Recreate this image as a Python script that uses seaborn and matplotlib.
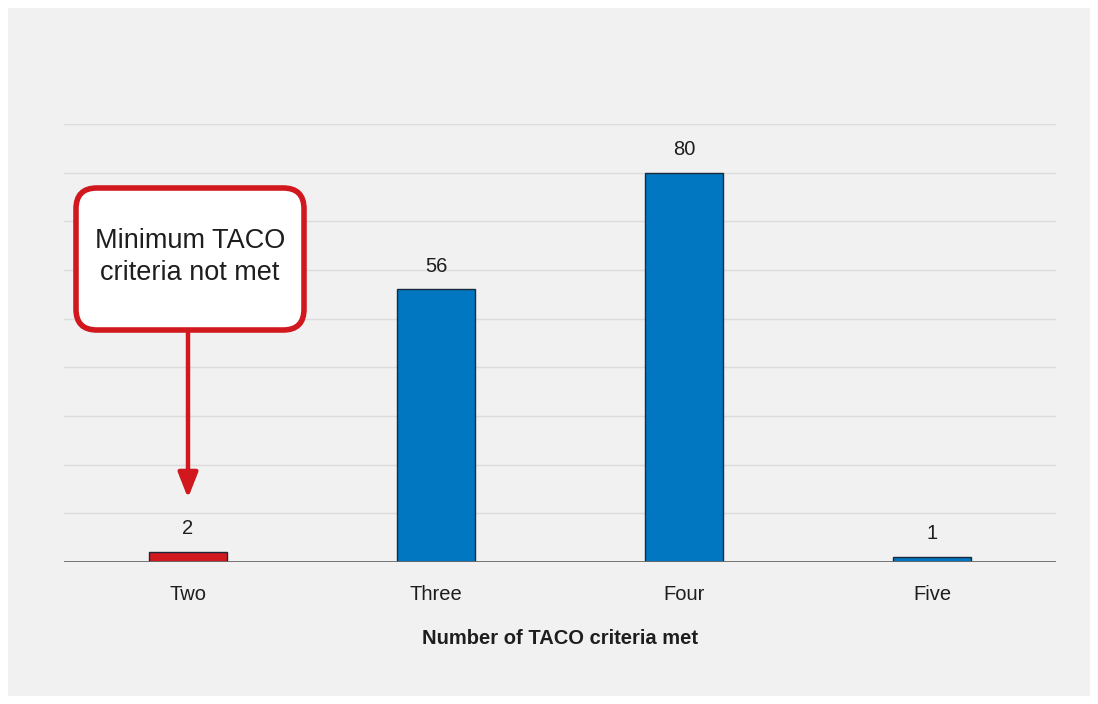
import matplotlib
matplotlib.use('Agg')
import matplotlib.pyplot as plt
from matplotlib.patches import FancyBboxPatch, Rectangle
import seaborn as sns

# data
categories = ['Two', 'Three', 'Four', 'Five']
counts = [2, 56, 80, 1]
bar_colors = ['#d0181e', '#0077c0', '#0077c0', '#0077c0']
y_max = 90
y_step = 10
callout_text = 'Minimum TACO\ncriteria not met'
x_title = 'Number of TACO criteria met'

red = '#d0181e'
ink = '#1e1e1e'

sns.set_theme(style='whitegrid')
plt.rcParams['font.family'] = ['Liberation Sans', 'DejaVu Sans']

fig = plt.figure(figsize=(10.98, 7.04), dpi=100)
fig.patch.set_facecolor('white')
panel = Rectangle((8 / 1098, 8 / 704), 1082 / 1098, 688 / 704,
                  transform=fig.transFigure, facecolor='#f1f1f1',
                  edgecolor='none', zorder=-10)
fig.add_artist(panel)

ax = fig.add_axes([64 / 1098, 142 / 704, 992 / 1098, 438 / 704])
ax.set_facecolor('none')

sns.barplot(x=categories, y=counts, hue=categories, palette=bar_colors, legend=False,
            saturation=1, width=0.315, edgecolor='#1b2a38', linewidth=1.0,
            ax=ax, zorder=3)

for cont in ax.containers:
    ax.bar_label(cont, padding=10, fontsize=14.5, color=ink)

ax.set_xlim(-0.5, len(categories) - 0.5)
ax.set_ylim(0, y_max)
ax.set_yticks(range(0, y_max + 1, y_step))
ax.set_yticklabels([])
ax.grid(axis='y', color='#dcdcdc', linewidth=1.0)
ax.grid(axis='x', visible=False)
ax.axhline(0, color='#6a6a6a', linewidth=1.3, zorder=4)
for s in ax.spines.values():
    s.set_visible(False)
ax.tick_params(axis='x', length=0, pad=16.5, labelsize=14.5, labelcolor=ink)
ax.tick_params(axis='y', length=0)
ax.set_xlabel(x_title, fontsize=14.5, fontweight='bold', color=ink, labelpad=18)
ax.set_ylabel('')

# callout box
bx, by, bw, bh = 12 / 992, 232 / 438, 228 / 992, 142 / 438
box = FancyBboxPatch((bx, by), bw, bh, transform=ax.transAxes,
                     boxstyle='round,pad=0,rounding_size=0.021',
                     mutation_aspect=992 / 438,
                     facecolor='white', edgecolor=red, linewidth=4, zorder=6,
                     clip_on=False)
ax.add_patch(box)
ax.text(bx + bw / 2, by + bh / 2 + 0.004, callout_text, transform=ax.transAxes,
        ha='center', va='center', fontsize=19.5, color=ink, linespacing=1.32, zorder=7)

# arrow from callout down to the "Two" bar
box_bottom = by * y_max
ax.annotate('', xy=(0, counts[0]), xytext=(0, box_bottom - 0.3),
            arrowprops=dict(arrowstyle='-|>,head_length=0.38,head_width=0.15',
                            color=red, lw=3.2, shrinkA=0, shrinkB=39,
                            mutation_scale=40),
            zorder=5)

fig.savefig('out.png', dpi=100)
